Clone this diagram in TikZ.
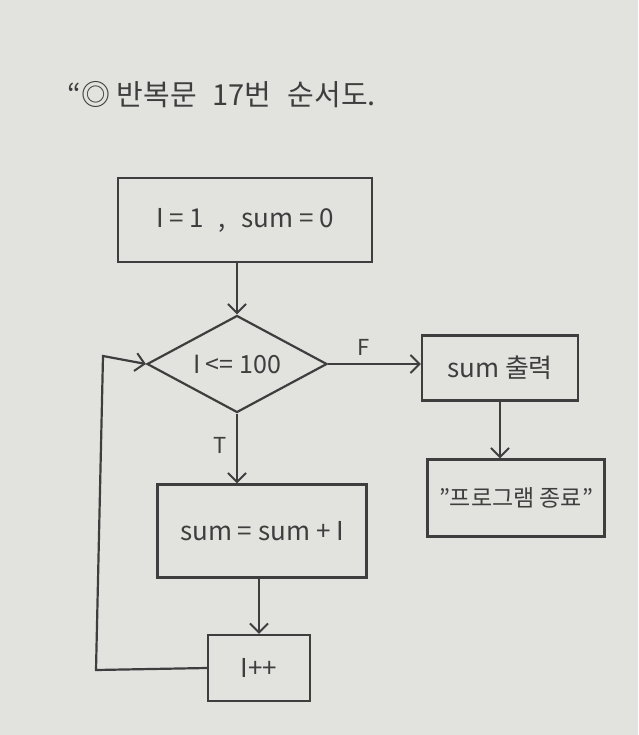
\documentclass[tikz,border=0pt]{standalone}
\usepackage{fontspec}
\setmainfont{Noto Sans CJK KR}
\usetikzlibrary{arrows.meta,shapes.geometric}
\definecolor{paper}{RGB}{226,226,223}
\definecolor{pencil}{RGB}{62,62,62}
\begin{document}
\begin{tikzpicture}[x=1pt,y=-1pt,
  every node/.style={text=pencil},
  box/.style={draw=pencil,line width=2.2pt,rectangle,inner sep=0pt,font=\fontsize{26}{30}\selectfont},
  dia/.style={draw=pencil,line width=2.2pt,diamond,aspect=1.85,inner sep=0pt,minimum width=180pt,minimum height=97pt,font=\fontsize{25}{29}\selectfont},
  conn/.style={draw=pencil,line width=2.2pt,-{Straight Barb[length=9pt,width=18pt,line width=2pt]}},
  lbl/.style={font=\fontsize{22}{26}\selectfont}]
\fill[paper] (0,0) rectangle (638,735);
\useasboundingbox (0,0) rectangle (638,735);
\node[anchor=west,font=\fontsize{29}{33}\selectfont] (title) at (64,95) {“◎ 반복문\hspace{16pt}17번\hspace{16pt}순서도.};
\node[box,minimum width=254pt,minimum height=84pt] (init) at (245,220) {I = 1\hspace{14pt},\hspace{16pt}sum = 0};
\node[dia] (cond) at (237,364) {I <= 100};
\node[box,minimum width=156pt,minimum height=65pt] (out) at (500,368) {sum 출력};
\node[box,minimum width=177pt,minimum height=77pt,font=\fontsize{23}{27}\selectfont] (end) at (516,498) {"프로그램 종료"};
\node[box,minimum width=209pt,minimum height=93pt] (add) at (262,531) {sum = sum + I};
\node[box,minimum width=102pt,minimum height=66pt] (inc) at (259,668) {I++};
\coordinate (lb) at (96,670);
\coordinate (lt) at (103,356);
\draw[conn] (init.south -| cond.north) -- (cond.north);
\draw[conn] (cond.east) -- (cond.east -| out.west) node[lbl,pos=0.38,above=4pt] (f) {F};
\draw[conn] (out.south) -- (out.south |- end.north);
\draw[conn] (cond.south) -- (cond.south |- add.north) node[lbl,pos=0.45,left=6pt] (t) {T};
\draw[conn] (add.south -| inc.north) -- (inc.north);
\draw[conn] (inc.west) -- (lb) -- (lt) -- (cond.west);
\end{tikzpicture}
\end{document}
